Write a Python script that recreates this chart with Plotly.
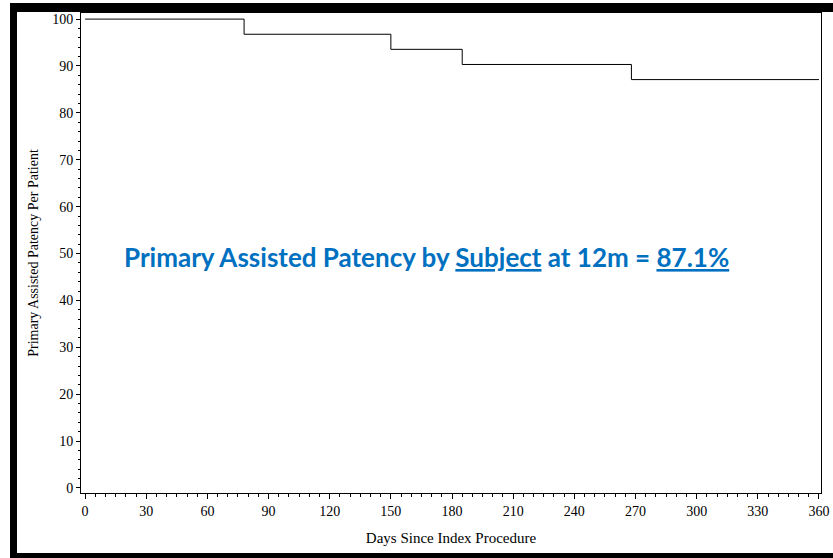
import plotly.graph_objects as go

# Data: Kaplan-Meier style step curve
days = [0, 78, 150, 185, 268, 360]
patency = [100, 96.77, 93.55, 90.32, 87.10, 87.10]
x_ticks = [0, 30, 60, 90, 120, 150, 180, 210, 240, 270, 300, 330, 360]
y_ticks = [0, 10, 20, 30, 40, 50, 60, 70, 80, 90, 100]

W, H = 833, 558
L, R, T, B = 81, 12, 13, 65
pw, ph = W - L - R, H - T - B

def px(x):
    return (x - L) / pw

def py(y):
    return (H - B - y) / ph

fig = go.Figure()
fig.add_trace(go.Scatter(
    x=days, y=patency, mode="lines",
    line=dict(color="black", width=1, shape="hv"),
    hoverinfo="skip", showlegend=False,
))

serif = "Liberation Serif, Times New Roman, serif"

fig.update_layout(
    width=W, height=H, autosize=False,
    margin=dict(l=L, r=R, t=T, b=B, autoexpand=False),
    paper_bgcolor="white", plot_bgcolor="white",
    showlegend=False,
    font=dict(family=serif, color="black", size=14),
    xaxis=dict(
        range=[-2, 361], tickvals=x_ticks, ticktext=[str(v) for v in x_ticks],
        automargin=False,
        showgrid=False, zeroline=False, showline=True, linecolor="black", linewidth=1,
        mirror=True, ticks="outside", ticklen=5, tickcolor="black",
        minor=dict(dtick=5, tick0=0, ticks="outside", ticklen=3, tickcolor="black"),
        tickfont=dict(family=serif, size=14),
        title=dict(text="Days Since Index Procedure", font=dict(family=serif, size=15), standoff=14),
    ),
    yaxis=dict(
        range=[-1.07, 101.3], tickvals=y_ticks, ticktext=[str(v) for v in y_ticks],
        automargin=False,
        showgrid=False, zeroline=False, showline=True, linecolor="black", linewidth=1,
        mirror=True, ticks="outside", ticklen=4, tickcolor="black",
        minor=dict(dtick=2, tick0=0, ticks="outside", ticklen=2, tickcolor="black"),
        tickfont=dict(family=serif, size=14),
        title=dict(text="Primary Assisted Patency Per Patient", font=dict(family=serif, size=14), standoff=10),
    ),
    annotations=[dict(
        x=px(426), y=py(257), xref="paper", yref="paper",
        text=("<b>Primary Assisted Patency by <span style='text-decoration:underline'>Subject</span>"
              " at 12m = <span style='text-decoration:underline'>87.1%</span></b>"),
        showarrow=False, xanchor="center", yanchor="middle",
        font=dict(family="Lato, Open Sans, sans-serif", size=26, color="#0070C0"),
    )],
    shapes=[
        dict(type="rect", xref="paper", yref="paper", x0=px(10), x1=px(834), y0=py(3), y1=py(12),
             fillcolor="black", line=dict(width=0), layer="above"),
        dict(type="rect", xref="paper", yref="paper", x0=px(10), x1=px(17), y0=py(3), y1=py(559),
             fillcolor="black", line=dict(width=0), layer="above"),
        dict(type="rect", xref="paper", yref="paper", x0=px(10), x1=px(834), y0=py(553), y1=py(559),
             fillcolor="black", line=dict(width=0), layer="above"),
    ],
)

fig.write_html("out.html")
